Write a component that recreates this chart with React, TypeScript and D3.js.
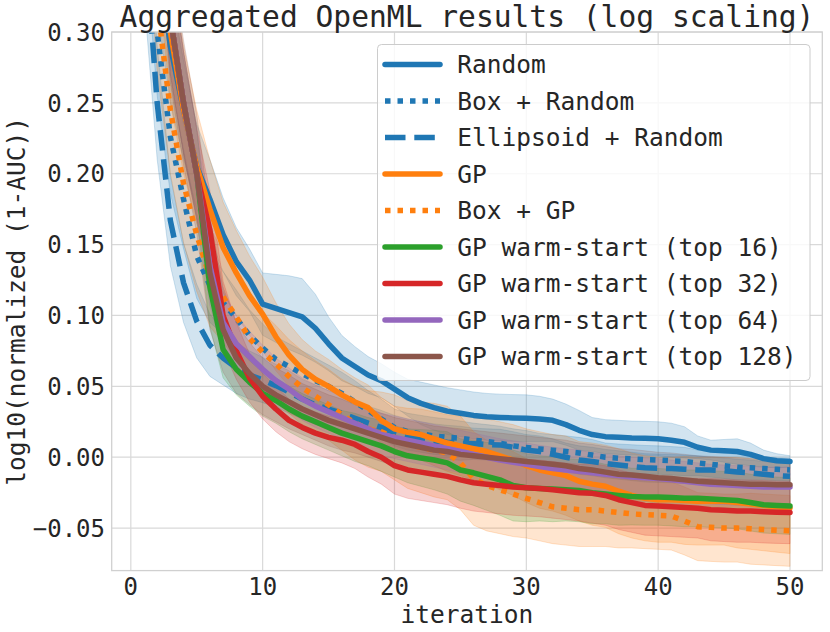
import * as d3 from "d3";
import { useEffect, useRef } from "react";

// iteration index on the x axis (1..50)
const iterations = d3.range(1, 51);

// mean curves
const randomMean = [0.55, 0.36, 0.29, 0.245, 0.205, 0.182, 0.157, 0.138, 0.125, 0.108,
  0.105, 0.102, 0.099, 0.091, 0.080, 0.070, 0.064, 0.058, 0.054, 0.048,
  0.042, 0.038, 0.035, 0.0325, 0.031, 0.0295, 0.0285, 0.028, 0.0277, 0.0275,
  0.027, 0.026, 0.023, 0.019, 0.016, 0.0145, 0.014, 0.0135, 0.0133, 0.013,
  0.012, 0.0105, 0.007, 0.005, 0.0045, 0.004, 0.002, -0.001, -0.0025, -0.003];
const boxRandomMean = [0.42, 0.30, 0.226, 0.182, 0.142, 0.121, 0.109, 0.098, 0.086, 0.077,
  0.069, 0.064, 0.059, 0.054, 0.050, 0.045, 0.039, 0.033, 0.027, 0.021,
  0.018, 0.0165, 0.015, 0.014, 0.0135, 0.012, 0.011, 0.0099, 0.008, 0.0068,
  0.0058, 0.005, 0.004, 0.003, 0.0015, 0.0, -0.0007, -0.0012, -0.0017, -0.002,
  -0.0025, -0.003, -0.004, -0.005, -0.006, -0.007, -0.0075, -0.008, -0.0085, -0.009];
const ellipsoidMean = [0.375, 0.25, 0.167, 0.123, 0.096, 0.079, 0.070, 0.063, 0.058, 0.0545,
  0.0505, 0.046, 0.041, 0.037, 0.034, 0.031, 0.0275, 0.024, 0.021, 0.0175,
  0.015, 0.013, 0.0115, 0.0105, 0.0098, 0.0095, 0.009, 0.0087, 0.007, 0.005,
  0.004, 0.002, 0.0, -0.002, -0.003, -0.0045, -0.0055, -0.0065, -0.0075, -0.0078,
  -0.008, -0.0085, -0.009, -0.009, -0.0095, -0.0105, -0.011, -0.012, -0.013, -0.0135];
const gpMean = [0.55, 0.40, 0.30, 0.245, 0.205, 0.175, 0.148, 0.130, 0.114, 0.101,
  0.085, 0.072, 0.062, 0.055, 0.050, 0.044, 0.039, 0.035, 0.026, 0.020,
  0.0175, 0.016, 0.013, 0.010, 0.008, 0.006, 0.004, 0.001, -0.002, -0.006,
  -0.009, -0.011, -0.013, -0.017, -0.019, -0.0205, -0.024, -0.027, -0.029, -0.030,
  -0.030, -0.0305, -0.031, -0.031, -0.031, -0.032, -0.033, -0.034, -0.035, -0.036];
const boxGpMean = [0.45, 0.32, 0.245, 0.193, 0.157, 0.127, 0.113, 0.099, 0.084, 0.074,
  0.066, 0.057, 0.049, 0.043, 0.037, 0.030, 0.024, 0.020, 0.018, 0.014,
  0.009, 0.007, 0.005, 0.003, -0.004, -0.015, -0.020, -0.023, -0.026, -0.029,
  -0.032, -0.035, -0.036, -0.037, -0.037, -0.038, -0.039, -0.040, -0.0405, -0.041,
  -0.0415, -0.045, -0.049, -0.0495, -0.050, -0.050, -0.0505, -0.051, -0.0515, -0.052];
const warm16Mean = [0.55, 0.42, 0.31, 0.25, 0.20, 0.12, 0.076, 0.062, 0.053, 0.045,
  0.040, 0.034, 0.029, 0.025, 0.021, 0.017, 0.014, 0.011, 0.008, 0.004,
  0.001, -0.0005, -0.002, -0.004, -0.009, -0.011, -0.0135, -0.016, -0.020, -0.0215,
  -0.022, -0.0225, -0.023, -0.0235, -0.025, -0.026, -0.027, -0.0278, -0.028, -0.028,
  -0.0285, -0.029, -0.029, -0.0295, -0.030, -0.0305, -0.032, -0.0335, -0.034, -0.0345];
const warm32Mean = [0.55, 0.42, 0.31, 0.25, 0.20, 0.16, 0.10, 0.075, 0.056, 0.043,
  0.034, 0.026, 0.021, 0.017, 0.014, 0.012, 0.009, 0.004, 0.000, -0.006,
  -0.009, -0.0105, -0.012, -0.0135, -0.016, -0.018, -0.019, -0.020, -0.021, -0.0215,
  -0.022, -0.023, -0.024, -0.025, -0.0255, -0.027, -0.030, -0.032, -0.034, -0.0345,
  -0.035, -0.0355, -0.036, -0.037, -0.0375, -0.038, -0.038, -0.0385, -0.0388, -0.039];
const warm64Mean = [0.55, 0.42, 0.31, 0.25, 0.20, 0.135, 0.095, 0.080, 0.071, 0.062,
  0.054, 0.048, 0.041, 0.036, 0.032, 0.028, 0.024, 0.020, 0.016, 0.014,
  0.012, 0.010, 0.008, 0.006, 0.004, 0.002, 0.000, -0.002, -0.0035, -0.005,
  -0.0066, -0.008, -0.009, -0.010, -0.011, -0.012, -0.013, -0.014, -0.0145, -0.015,
  -0.016, -0.017, -0.018, -0.019, -0.0195, -0.020, -0.0205, -0.021, -0.021, -0.021];
const warm128Mean = [0.55, 0.42, 0.31, 0.25, 0.20, 0.13, 0.090, 0.070, 0.059, 0.050,
  0.044, 0.039, 0.034, 0.030, 0.026, 0.023, 0.020, 0.017, 0.014, 0.011,
  0.009, 0.007, 0.005, 0.004, 0.002, 0.001, 0.000, -0.001, -0.002, -0.003,
  -0.004, -0.005, -0.006, -0.008, -0.009, -0.0105, -0.012, -0.0125, -0.0135, -0.0145,
  -0.015, -0.016, -0.017, -0.0175, -0.018, -0.0185, -0.019, -0.019, -0.0195, -0.0195];

// half-widths of the shaded bands
const randomStd = [0.05, 0.045, 0.04, 0.035, 0.03, 0.028, 0.026, 0.024, 0.022, 0.022,
  0.024, 0.026, 0.027, 0.024, 0.019, 0.016, 0.014, 0.013, 0.012, 0.012,
  0.013, 0.015, 0.016, 0.0165, 0.0165, 0.0165, 0.0165, 0.0165, 0.0165, 0.0165,
  0.016, 0.015, 0.0145, 0.014, 0.012, 0.012, 0.012, 0.012, 0.012, 0.012,
  0.012, 0.011, 0.008, 0.007, 0.008, 0.009, 0.008, 0.006, 0.005, 0.004];
const boxRandomStd = [0.05, 0.045, 0.04, 0.035, 0.03, 0.026, 0.022, 0.02, 0.018, 0.017,
  0.016, 0.016, 0.016, 0.016, 0.015, 0.015, 0.015, 0.014, 0.014, 0.013,
  0.013, 0.013, 0.013, 0.013, 0.012, 0.012, 0.012, 0.012, 0.012, 0.012,
  0.011, 0.011, 0.011, 0.011, 0.011, 0.010, 0.010, 0.010, 0.010, 0.010,
  0.010, 0.010, 0.009, 0.009, 0.009, 0.009, 0.009, 0.008, 0.008, 0.008];
const ellipsoidStd = [0.05, 0.04, 0.032, 0.028, 0.026, 0.022, 0.019, 0.018, 0.017, 0.016,
  0.015, 0.015, 0.014, 0.014, 0.013, 0.013, 0.013, 0.012, 0.012, 0.012,
  0.012, 0.012, 0.012, 0.012, 0.012, 0.011, 0.011, 0.011, 0.011, 0.011,
  0.011, 0.011, 0.010, 0.010, 0.010, 0.010, 0.010, 0.010, 0.010, 0.010,
  0.010, 0.010, 0.010, 0.009, 0.009, 0.009, 0.009, 0.009, 0.009, 0.009];
const gpStd = [0.06, 0.055, 0.05, 0.045, 0.04, 0.035, 0.032, 0.030, 0.028, 0.026,
  0.024, 0.022, 0.021, 0.020, 0.019, 0.018, 0.017, 0.016, 0.016, 0.016,
  0.017, 0.018, 0.019, 0.020, 0.021, 0.022, 0.023, 0.024, 0.025, 0.026,
  0.027, 0.027, 0.028, 0.028, 0.029, 0.029, 0.030, 0.030, 0.030, 0.030,
  0.030, 0.031, 0.031, 0.031, 0.031, 0.032, 0.032, 0.032, 0.032, 0.032];
const boxGpStd = [0.05, 0.048, 0.045, 0.042, 0.04, 0.035, 0.032, 0.030, 0.029, 0.028,
  0.027, 0.026, 0.026, 0.025, 0.025, 0.025, 0.026, 0.027, 0.028, 0.030,
  0.031, 0.032, 0.033, 0.033, 0.033, 0.033, 0.032, 0.031, 0.030, 0.028,
  0.027, 0.026, 0.026, 0.026, 0.026, 0.025, 0.025, 0.024, 0.024, 0.024,
  0.024, 0.024, 0.024, 0.024, 0.024, 0.024, 0.025, 0.025, 0.025, 0.025];
const warm16Std = [0.045, 0.042, 0.04, 0.036, 0.032, 0.028, 0.02, 0.018, 0.017, 0.016,
  0.016, 0.016, 0.016, 0.016, 0.016, 0.016, 0.017, 0.017, 0.018, 0.018,
  0.019, 0.020, 0.021, 0.022, 0.022, 0.023, 0.024, 0.025, 0.025, 0.024,
  0.023, 0.023, 0.022, 0.022, 0.022, 0.021, 0.021, 0.020, 0.020, 0.020,
  0.020, 0.020, 0.020, 0.020, 0.020, 0.020, 0.020, 0.020, 0.020, 0.020];
const warm32Std = [0.045, 0.042, 0.04, 0.036, 0.032, 0.028, 0.024, 0.02, 0.017, 0.016,
  0.016, 0.015, 0.015, 0.015, 0.015, 0.016, 0.017, 0.018, 0.019, 0.020,
  0.020, 0.020, 0.020, 0.020, 0.020, 0.020, 0.020, 0.020, 0.020, 0.020,
  0.020, 0.020, 0.020, 0.020, 0.021, 0.021, 0.021, 0.021, 0.021, 0.021,
  0.021, 0.021, 0.021, 0.022, 0.022, 0.022, 0.022, 0.022, 0.022, 0.022];
const warm64Std = [0.045, 0.042, 0.04, 0.036, 0.032, 0.028, 0.022, 0.02, 0.018, 0.017,
  0.016, 0.015, 0.015, 0.015, 0.015, 0.015, 0.015, 0.015, 0.015, 0.015,
  0.015, 0.015, 0.015, 0.015, 0.015, 0.015, 0.015, 0.015, 0.015, 0.015,
  0.015, 0.015, 0.015, 0.015, 0.014, 0.014, 0.014, 0.014, 0.014, 0.014,
  0.014, 0.014, 0.014, 0.014, 0.014, 0.014, 0.014, 0.014, 0.014, 0.014];
const warm128Std = [0.05, 0.048, 0.046, 0.044, 0.042, 0.04, 0.03, 0.025, 0.022, 0.020,
  0.019, 0.019, 0.018, 0.018, 0.018, 0.018, 0.017, 0.017, 0.017, 0.017,
  0.017, 0.017, 0.017, 0.017, 0.018, 0.018, 0.018, 0.018, 0.018, 0.018,
  0.018, 0.018, 0.018, 0.018, 0.018, 0.018, 0.018, 0.018, 0.018, 0.018,
  0.018, 0.018, 0.018, 0.018, 0.018, 0.018, 0.018, 0.018, 0.018, 0.018];

const seriesNames = ["Random", "Box + Random", "Ellipsoid + Random", "GP", "Box + GP",
  "GP warm-start (top 16)", "GP warm-start (top 32)", "GP warm-start (top 64)", "GP warm-start (top 128)"];
const seriesColors = ["#1f77b4", "#1f77b4", "#1f77b4", "#ff7f0e", "#ff7f0e",
  "#2ca02c", "#d62728", "#9467bd", "#8c564b"];
const seriesDash = [null, "5.5,7", "20.5,8.8", null, "5.5,7", null, null, null, null];
const seriesMeans = [randomMean, boxRandomMean, ellipsoidMean, gpMean, boxGpMean,
  warm16Mean, warm32Mean, warm64Mean, warm128Mean];
const seriesStds = [randomStd, boxRandomStd, ellipsoidStd, gpStd, boxGpStd,
  warm16Std, warm32Std, warm64Std, warm128Std];

const xTicks = [0, 10, 20, 30, 40, 50];
const yTicks = [-0.05, 0.0, 0.05, 0.10, 0.15, 0.20, 0.25, 0.30];

const App = () => {
  const ref = useRef(null);

  useEffect(() => {
    if (ref && ref.current) ref.current.innerHTML = "";

    const width = 830;
    const height = 632;
    const left = 111.7, right = 822.3, top = 32, bottom = 570.6;
    const font = "'DejaVu Sans Mono', monospace";
    const ink = "#262626";

    const x = d3.scaleLinear().domain([-1.45, 52.45]).range([left, right]);
    const y = d3.scaleLinear().domain([-0.08, 0.30]).range([bottom, top]);

    const svg = d3.select(ref.current)
      .attr("width", width)
      .attr("height", height)
      .attr("viewBox", [0, 0, width, height])
      .style("font-family", font);

    svg.append("rect").attr("width", width).attr("height", height).attr("fill", "#fff");

    svg.append("clipPath").attr("id", "plot-clip")
      .append("rect")
      .attr("x", left).attr("y", top)
      .attr("width", right - left).attr("height", bottom - top);

    // grid
    const grid = svg.append("g").attr("stroke", "#d9d9d9").attr("stroke-width", 1.2);
    grid.selectAll(".gx").data(xTicks).join("line")
      .attr("x1", d => x(d)).attr("x2", d => x(d))
      .attr("y1", top).attr("y2", bottom);
    grid.selectAll(".gy").data(yTicks).join("line")
      .attr("y1", d => y(d)).attr("y2", d => y(d))
      .attr("x1", left).attr("x2", right);

    const series = seriesNames.map((name, i) => ({
      name,
      color: seriesColors[i],
      dash: seriesDash[i],
      points: iterations.map((it, j) => ({
        it,
        mean: seriesMeans[i][j],
        lo: seriesMeans[i][j] - seriesStds[i][j],
        hi: seriesMeans[i][j] + seriesStds[i][j],
      })),
    }));

    const plot = svg.append("g").attr("clip-path", "url(#plot-clip)");

    // bands sit below every line (matplotlib zorder)
    const area = d3.area()
      .x(d => x(d.it))
      .y0(d => y(d.lo))
      .y1(d => y(d.hi));
    plot.selectAll(".band").data(series).join("path")
      .attr("d", d => area(d.points))
      .attr("fill", d => d.color)
      .attr("fill-opacity", 0.2)
      .attr("stroke", d => d.color)
      .attr("stroke-opacity", 0.2)
      .attr("stroke-width", 1);

    const line = d3.line()
      .x(d => x(d.it))
      .y(d => y(d.mean));
    plot.selectAll(".line").data(series).join("path")
      .attr("d", d => line(d.points))
      .attr("fill", "none")
      .attr("stroke", d => d.color)
      .attr("stroke-width", 5.5)
      .attr("stroke-linejoin", "round")
      .attr("stroke-linecap", d => d.dash ? "butt" : "round")
      .attr("stroke-dasharray", d => d.dash);

    // spines
    svg.append("rect")
      .attr("x", left).attr("y", top)
      .attr("width", right - left).attr("height", bottom - top)
      .attr("fill", "none")
      .attr("stroke", "#d0d0d0")
      .attr("stroke-width", 1.3);

    // tick labels
    const fmt = d3.format(".2f");
    svg.append("g").selectAll("text").data(yTicks).join("text")
      .attr("x", 105)
      .attr("y", d => y(d))
      .attr("dy", "0.36em")
      .attr("text-anchor", "end")
      .attr("font-size", 24)
      .attr("fill", ink)
      .text(d => fmt(d).replace("-", "\u2212"));
    svg.append("g").selectAll("text").data(xTicks).join("text")
      .attr("x", d => x(d))
      .attr("y", 595)
      .attr("text-anchor", "middle")
      .attr("font-size", 24)
      .attr("fill", ink)
      .text(d => d);

    // axis labels and title
    svg.append("text")
      .attr("x", (left + right) / 2)
      .attr("y", 622.5)
      .attr("text-anchor", "middle")
      .attr("font-size", 24.5)
      .attr("fill", ink)
      .text("iteration");
    svg.append("text")
      .attr("transform", `translate(24.5,${(top + bottom) / 2}) rotate(-90)`)
      .attr("text-anchor", "middle")
      .attr("font-size", 24.5)
      .attr("fill", ink)
      .text("log10(normalized (1-AUC))");
    svg.append("text")
      .attr("x", (left + right) / 2)
      .attr("y", 27.3)
      .attr("text-anchor", "middle")
      .attr("font-size", 29.6)
      .attr("fill", ink)
      .text("Aggregated OpenML results (log scaling)");

    // legend
    const legend = svg.append("g");
    legend.append("rect")
      .attr("x", 377.5).attr("y", 44.5)
      .attr("width", 432.5).attr("height", 336)
      .attr("rx", 4)
      .attr("fill", "#fff").attr("fill-opacity", 0.8)
      .attr("stroke", "#cccccc").attr("stroke-width", 1);
    const rows = legend.selectAll(".row").data(series).join("g")
      .attr("transform", (d, i) => `translate(0,${64.5 + i * 36.5})`);
    rows.append("line")
      .attr("x1", 385).attr("x2", 440)
      .attr("stroke", d => d.color)
      .attr("stroke-width", 5.5)
      .attr("stroke-linecap", d => d.dash ? "butt" : "round")
      .attr("stroke-dasharray", d => d.dash);
    rows.append("text")
      .attr("x", 457.3)
      .attr("dy", "0.36em")
      .attr("font-size", 24.5)
      .attr("fill", ink)
      .text(d => d.name);
  }, []);

  return <svg ref={ref} style={{ position: "absolute", left: 0, top: 0 }} />;
};

export default App;
